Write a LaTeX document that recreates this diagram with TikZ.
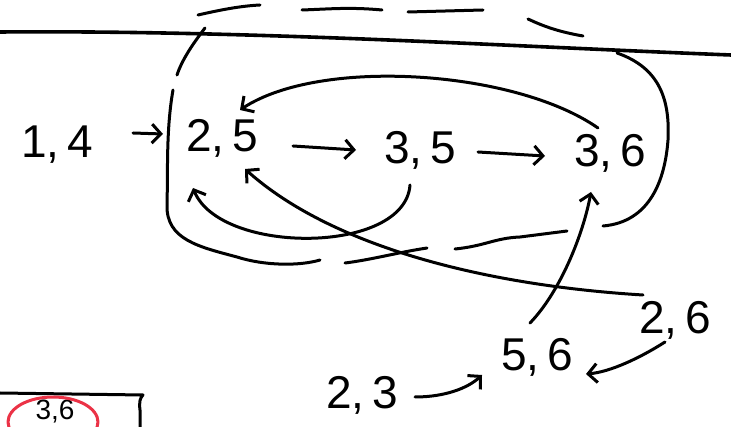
\documentclass[tikz,border=0pt]{standalone}
\usepackage{fontspec}
\setmainfont{Liberation Sans}
\usetikzlibrary{arrows.meta, positioning, calc}
\definecolor{penred}{RGB}{235,50,70}

\begin{document}
\begin{tikzpicture}[x=1pt, y=-1pt,
    pen/.style={line width=3pt, line cap=round, line join=round},
    conn/.style={pen, -{Straight Barb[length=9pt, width=19pt]}},
    pair/.style={font=\fontsize{46}{50}\selectfont, inner sep=1pt}]
    \useasboundingbox (0,0) rectangle (731,427);

    % Pairs
    \node[pair] (n14) at (57,145) {1,\,4};
    \node[pair] (n25) at (222,138) {2,\,5};
    \node[pair] (n35) at (420,150) {3,\,5};
    \node[pair] (n36) at (610,153) {3,\,6};
    \node[pair] (n26) at (675,320) {2,\,6};
    \node[pair] (n56) at (537,357) {5,\,6};
    \node[pair] (n23) at (362,395) {2,\,3};
    \node[pair, font=\fontsize{28}{30}\selectfont, anchor=north] (n36b) at (55,399) {3,6};

    % Top rule
    \draw[pen, line width=3.6pt] (0,32) .. controls (250,30) and (500,46) .. (731,55);

    % Dashed part of the loop
    \draw[pen] (198,15) .. controls (220,10) and (240,6) .. (260,5);
    \draw[pen] (302,10) .. controls (330,9) and (350,7) .. (382,10);
    \draw[pen] (408,12) -- (483,10);
    \draw[pen] (528,19) .. controls (545,27) and (560,32) .. (583,36);
    \draw[pen] (205,28) .. controls (192,45) and (182,60) .. (177,75);

    % Solid part of the loop
    \draw[pen] (173,90) .. controls (166,130) and (168,170) .. (167,205)
        .. controls (166,240) and (200,247) .. (237,257)
        .. controls (265,266) and (300,266) .. (320,260);
    \draw[pen] (345,263) .. controls (370,260) and (400,252) .. (427,248);
    \draw[pen] (455,249) .. controls (485,246) and (495,238) .. (520,237) -- (567,231);
    \draw[pen] (603,226) .. controls (650,222) and (665,180) .. (668,140)
        .. controls (670,100) and (660,68) .. (617,53);

    % Chain
    \draw[conn] ($(n14)+(76,-12)$) -- ($(n25)+(-59,-4)$);
    \draw[conn] ($(n25)+(71,8)$) -- ($(n35)+(-64,0)$);
    \draw[conn] ($(n35)+(58,2)$) -- ($(n36)+(-65,3)$);

    % Back edges
    \draw[conn] ($(n36)+(-12,-25)$) .. controls (515,70) and (320,57) .. ($(n25)+(18,-28)$);
    \draw[conn] ($(n35)+(-10,35)$) .. controls (405,255) and (220,255) .. ($(n25)+(-29,50)$);
    \draw[conn] ($(n26)+(-32,-25)$) .. controls (480,285) and (330,245) .. ($(n25)+(23,31)$);

    % Lower pairs
    \draw[conn] ($(n56)+(-7,-34)$) .. controls (560,292) and (583,235) .. ($(n36)+(-19,39)$);
    \draw[conn] ($(n26)+(-10,22)$) .. controls (640,358) and (610,372) .. ($(n56)+(49,17)$);
    \draw[conn] ($(n23)+(53,2)$) .. controls (445,397) and (468,388) .. ($(n56)+(-55,18)$);

    % Bottom-left box
    \draw[pen] (0,393) -- (143,395) .. controls (140,398) and (139,402) .. (140,410) -- (140,427);
    \draw[pen, penred] (53,422) ellipse (45 and 25);
\end{tikzpicture}
\end{document}
